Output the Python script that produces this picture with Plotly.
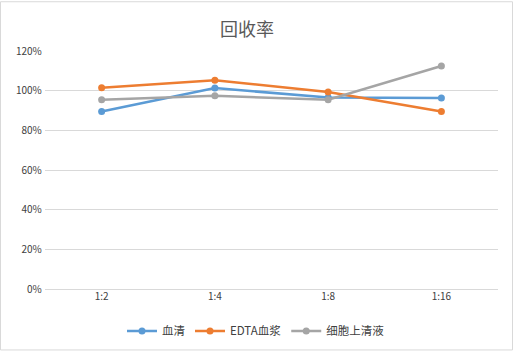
import plotly.graph_objects as go

categories = ["1:2", "1:4", "1:8", "1:16"]
serum = [0.895, 1.013, 0.965, 0.963]
edta_plasma = [1.015, 1.053, 0.993, 0.895]
supernatant = [0.954, 0.974, 0.954, 1.124]
series_names = ["血清", "EDTA血浆", "细胞上清液"]
colors = ["#5B9BD5", "#ED7D31", "#A5A5A5"]

fig = go.Figure()
for name, vals, c in zip(series_names, [serum, edta_plasma, supernatant], colors):
    fig.add_trace(go.Scatter(
        x=categories, y=vals, name=name, mode="lines+markers",
        line=dict(color=c, width=2.5),
        marker=dict(color=c, size=7),
    ))

L, R, T, B = 45, 15, 51, 63
W, H = 513, 358
pw, ph = W - L - R, H - T - B

fig.update_layout(
    width=W, height=H,
    margin=dict(l=L, r=R, t=T, b=B),
    paper_bgcolor="white", plot_bgcolor="white",
    font=dict(family="Noto Sans CJK SC, sans-serif", color="#595959", size=10),
    title=dict(text="回收率", x=247 / W, xanchor="center", y=1 - 30 / H, yanchor="middle",
               font=dict(size=18, color="#595959", family="Noto Sans CJK SC")),
    showlegend=True,
    legend=dict(orientation="h", x=(256 - L) / pw, xanchor="center",
                y=(ph - (338 - T)) / ph, yanchor="middle",
                font=dict(size=11.5, color="#404040"), itemwidth=30,
                tracegroupgap=0),
    xaxis=dict(type="category", range=[-0.5, 3.5], showgrid=False, showline=False,
               zeroline=False, ticks="", tickfont=dict(size=10, color="#404040")),
    yaxis=dict(range=[0, 1.2], dtick=0.2, tickformat=".0%", showgrid=True,
               gridcolor="#D9D9D9", gridwidth=1, zeroline=True, zerolinecolor="#D9D9D9",
               zerolinewidth=1, showline=False, ticks="", ticksuffix=" ",
               tickfont=dict(size=10, color="#404040")),
)

fig.add_shape(type="rect", xref="paper", yref="paper",
              x0=-(L - 0.5) / pw, x1=1 + (R - 0.5) / pw,
              y0=-(B - 0.5) / ph, y1=1 + (T - 0.5) / ph,
              line=dict(color="#D9D9D9", width=1), layer="below")

fig.write_html("out.html", config={"displayModeBar": False},
               post_script="document.body.style.margin='0';document.body.style.overflow='hidden';")
